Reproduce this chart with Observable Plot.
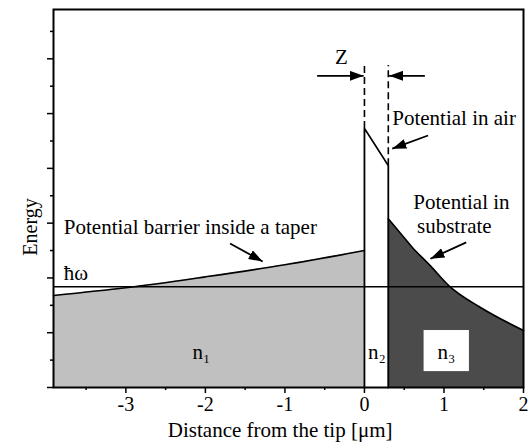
<!DOCTYPE html>
<html>
<head>
<meta charset="utf-8">
<script src="https://cdn.jsdelivr.net/npm/d3@7"></script>
<script src="https://cdn.jsdelivr.net/npm/@observablehq/plot@0.6"></script>
<style>
  html, body { margin: 0; padding: 0; background: white; }
  #chart { width: 532px; height: 447px; }
</style>
</head>
<body>
<div id="chart"></div>
<script>
// ---- data ----
const xDomain = [-3.91, 2];
const yDomain = [0, 6.9];
const xMajor = [-3, -2, -1, 0, 1, 2];
const xMinor = [-3.5, -2.5, -1.5, -0.5, 0.5, 1.5];
const yMajor = [0, 1, 2, 3, 4, 5, 6];
const yMinor = [0.5, 1.5, 2.5, 3.5, 4.5, 5.5, 6.5];

const hbarOmega = 1.84;

// potential barrier inside the taper (n1)
const taperX = [-3.91, -3, -2, -1, 0];
const taperY = [1.68, 1.82, 2.02, 2.24, 2.50];

// potential in air (n2), gap between tip and substrate
const airX = [0, 0.3];
const airY = [4.73, 4.05];

// potential in substrate (n3)
const substrateX = [0.30, 0.45, 0.60, 0.83, 1.06, 1.46, 2.0];
const substrateY = [3.08, 2.82, 2.56, 2.22, 1.86, 1.46, 1.04];

// dashed guides marking the gap Z
const dashTop = 5.88;

// annotation texts
const labelText = ["Z", "Potential in air", "Potential in", "substrate", "Potential barrier inside a taper", "ħω"];
const labelX    = [-0.29, 0.35, 1.22, 1.13, -3.78, -3.78];
const labelY    = [6.02, 4.91, 3.39, 2.94, 2.92, 2.08];
const labelAnchor = ["middle", "start", "middle", "middle", "start", "start"];

const regionText = ["n₁", "n₂", "n₃"];
const regionX = [-2.05, 0.156, 1.03];
const regionY = [0.64, 0.64, 0.64];

// white box behind n3
const boxX = [0.75, 1.32];
const boxY = [0.29, 1.04];

// arrows [x1, y1] -> [x2, y2]
const arrowX1 = [-0.595, 0.76, 0.80, 1.28, -1.69];
const arrowY1 = [5.69, 5.69, 4.60, 2.65, 2.63];
const arrowX2 = [-0.01, 0.31, 0.35, 0.83, -1.28];
const arrowY2 = [5.69, 5.69, 4.36, 2.35, 2.30];

// axis titles
const xTitle = "Distance from the tip [μm]";
const yTitle = "Energy";

// ---- build tables ----
const FONT = "'Liberation Serif', 'Times New Roman', serif";
const taper = taperX.map((x, i) => ({x, y: taperY[i]}));
const substrate = substrateX.map((x, i) => ({x, y: substrateY[i]}));
const gapOutline = [
  {x: airX[0], y: 0}, {x: airX[0], y: airY[0]},
  {x: airX[1], y: airY[1]}, {x: airX[1], y: 0}
];
const dashes = airX.map((x, i) => ({x, y1: airY[i], y2: dashTop}));
const labels = labelText.map((t, i) => ({t, x: labelX[i], y: labelY[i], a: labelAnchor[i]}));
const labelsStart = labels.filter(d => d.a === "start");
const labelsMiddle = labels.filter(d => d.a === "middle");
const regions = regionText.map((t, i) => ({t, x: regionX[i], y: regionY[i]}));
const arrows = arrowX1.map((x1, i) => ({x1, y1: arrowY1[i], x2: arrowX2[i], y2: arrowY2[i]}));

function filledHead(color, context) {
  const doc = context.document;
  const m = doc.createElementNS("http://www.w3.org/2000/svg", "marker");
  m.setAttribute("viewBox", "-14 -5 14 10");
  m.setAttribute("markerUnits", "userSpaceOnUse");
  m.setAttribute("markerWidth", 14);
  m.setAttribute("markerHeight", 10);
  m.setAttribute("orient", "auto");
  m.setAttribute("refX", 0);
  m.setAttribute("refY", 0);
  const p = doc.createElementNS("http://www.w3.org/2000/svg", "path");
  p.setAttribute("d", "M-14,-5L0,0L-14,5Z");
  p.setAttribute("fill", "black");
  p.setAttribute("stroke", "none");
  m.appendChild(p);
  return m;
}

const fmt = d => (d < 0 ? "-" + Math.abs(d) : String(d));

const chart = Plot.plot({
  width: 532,
  height: 447,
  marginLeft: 53,
  marginRight: 9,
  marginTop: 9,
  marginBottom: 60,
  x: {domain: xDomain},
  y: {domain: yDomain},
  style: {fontFamily: FONT, fontSize: "20px", color: "black", background: "white"},
  marks: [
    Plot.areaY(taper, {x: "x", y1: 0, y2: "y", fill: "#c0c0c0", curve: "monotone-x"}),
    Plot.areaY(substrate, {x: "x", y1: 0, y2: "y", fill: "#4b4b4b", curve: "monotone-x"}),
    Plot.line(taper, {x: "x", y: "y", stroke: "black", strokeWidth: 1.6, curve: "monotone-x"}),
    Plot.line(substrate, {x: "x", y: "y", stroke: "black", strokeWidth: 1.6, curve: "monotone-x"}),
    Plot.line(gapOutline, {x: "x", y: "y", stroke: "black", strokeWidth: 1.8}),
    Plot.ruleX(dashes, {x: "x", y1: "y1", y2: "y2", stroke: "black", strokeWidth: 1.6, strokeDasharray: "7,4"}),
    Plot.ruleY([hbarOmega], {stroke: "black", strokeWidth: 1.6}),
    Plot.rect([{x1: boxX[0], x2: boxX[1], y1: boxY[0], y2: boxY[1]}], {x1: "x1", x2: "x2", y1: "y1", y2: "y2", fill: "white"}),
    Plot.text(regions, {x: "x", y: "y", text: "t", fontSize: 21, fontFamily: FONT, fill: "black"}),
    Plot.text(labelsMiddle, {x: "x", y: "y", text: "t", textAnchor: "middle", fontSize: 21, fontFamily: FONT, fill: "black"}),
    Plot.text(labelsStart, {x: "x", y: "y", text: "t", textAnchor: "start", fontSize: 21, fontFamily: FONT, fill: "black"}),
    Plot.link(arrows, {x1: "x1", y1: "y1", x2: "x2", y2: "y2", stroke: "black", strokeWidth: 1.8, markerEnd: filledHead}),
    Plot.frame({stroke: "black", strokeWidth: 2}),
    Plot.axisX(xMajor, {tickSize: 6, tickPadding: 3, tickFormat: fmt, strokeWidth: 1.5, label: null, fontSize: 20, fontFamily: FONT}),
    Plot.axisX(xMinor, {tickSize: 3, tickFormat: () => "", strokeWidth: 1.5, label: null}),
    Plot.axisY(yMajor, {tickSize: 6, tickFormat: () => "", strokeWidth: 1.5, label: null}),
    Plot.axisY(yMinor, {tickSize: 3, tickFormat: () => "", strokeWidth: 1.5, label: null}),
    Plot.text([{t: xTitle, x: -1.06}], {x: "x", text: "t", frameAnchor: "bottom", dy: 49, fontSize: 21, fontFamily: FONT, fill: "black"}),
    Plot.text([{t: yTitle, y: 2.93}], {y: "y", text: "t", frameAnchor: "left", textAnchor: "middle", lineAnchor: "middle", dx: -23, rotate: -90, fontSize: 20, fontFamily: FONT, fill: "black"})
  ]
});
document.getElementById("chart").appendChild(chart);
</script>
</body>
</html>
